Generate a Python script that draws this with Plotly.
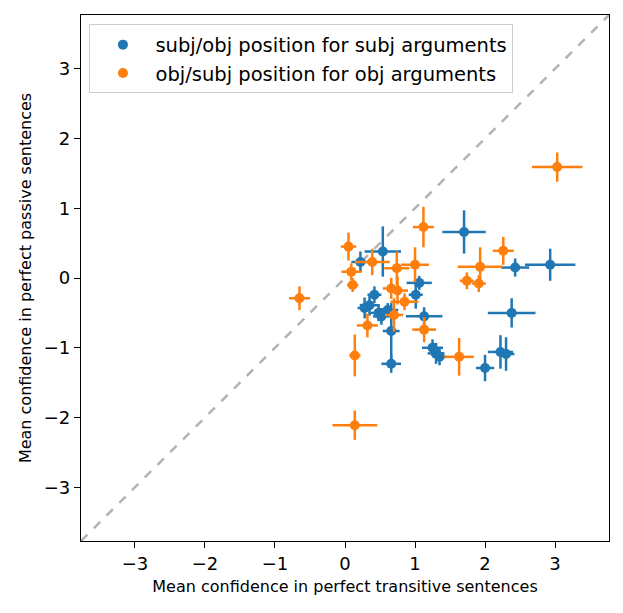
import plotly.graph_objects as go

# subj/obj position for subj arguments (blue)
blue_x = [1.70, 2.93, 2.43, 2.38, 2.00, 2.22, 2.30, 1.25, 1.30, 1.35, 0.54, 0.22,
          1.06, 1.01, 1.13, 0.66, 0.66, 0.42, 0.35, 0.61, 0.52, 0.48, 0.28]
blue_y = [0.66, 0.19, 0.15, -0.50, -1.29, -1.06, -1.09, -1.00, -1.08, -1.13, 0.38, 0.23,
          -0.07, -0.24, -0.55, -0.76, -1.23, -0.24, -0.39, -0.46, -0.55, -0.50, -0.43]
blue_xerr = [0.31, 0.36, 0.20, 0.34, 0.13, 0.18, 0.12, 0.15, 0.12, 0.10, 0.26, 0.13,
             0.18, 0.10, 0.26, 0.12, 0.14, 0.10, 0.14, 0.15, 0.12, 0.14, 0.10]
blue_yerr = [0.31, 0.23, 0.13, 0.21, 0.19, 0.24, 0.24, 0.12, 0.15, 0.12, 0.36, 0.15,
             0.10, 0.20, 0.13, 0.40, 0.13, 0.12, 0.15, 0.10, 0.12, 0.12, 0.15]

# obj/subj position for obj arguments (orange)
orange_x = [3.03, 1.12, 2.26, 1.93, 1.74, 1.91, 1.00, 0.05, 0.39, 0.74, 0.09, 0.11,
            -0.65, 0.32, 0.66, 0.85, 0.75, 0.70, 1.13, 1.63, 0.14, 0.14]
orange_y = [1.59, 0.73, 0.39, 0.16, -0.04, -0.08, 0.19, 0.45, 0.23, 0.14, 0.09, -0.10,
            -0.29, -0.68, -0.15, -0.34, -0.18, -0.53, -0.74, -1.13, -1.11, -2.11]
orange_xerr = [0.36, 0.15, 0.15, 0.32, 0.10, 0.10, 0.20, 0.11, 0.25, 0.18, 0.14, 0.08,
               0.15, 0.15, 0.12, 0.20, 0.15, 0.13, 0.17, 0.21, 0.08, 0.32]
orange_yerr = [0.21, 0.29, 0.20, 0.28, 0.12, 0.12, 0.25, 0.20, 0.19, 0.24, 0.12, 0.10,
               0.17, 0.17, 0.15, 0.12, 0.20, 0.24, 0.18, 0.27, 0.30, 0.21]

lim = [-3.77, 3.77]
ticks = [-3, -2, -1, 0, 1, 2, 3]

blue = '#1f77b4'
orange = '#ff7f0e'

fig = go.Figure()

fig.add_trace(go.Scatter(x=lim, y=lim, mode='lines', showlegend=False,
                         line=dict(color='#b3b3b3', width=2.5, dash='dash'),
                         hoverinfo='skip'))

def err_trace(x, y, xe, ye, color, name):
    return go.Scatter(
        x=x, y=y, mode='markers', name=name,
        marker=dict(color=color, size=10),
        error_x=dict(type='data', array=xe, color=color, thickness=2.5, width=0),
        error_y=dict(type='data', array=ye, color=color, thickness=2.5, width=0))

fig.add_trace(err_trace(blue_x, blue_y, blue_xerr, blue_yerr, blue,
                        'subj/obj position for subj arguments'))
fig.add_trace(err_trace(orange_x, orange_y, orange_xerr, orange_yerr, orange,
                        'obj/subj position for obj arguments'))

axis = dict(range=lim, tickvals=ticks, showgrid=False, zeroline=False,
            showline=True, mirror=True, linecolor='black', linewidth=1.3,
            ticks='outside', ticklen=6, tickcolor='black', tickwidth=1.3,
            tickfont=dict(size=18, color='black'), automargin=False)

fig.update_layout(
    width=623, height=613,
    margin=dict(l=73, r=22, t=7, b=80),
    plot_bgcolor='white', paper_bgcolor='white',
    font=dict(family='DejaVu Sans', color='black'),
    xaxis=dict(axis, title=dict(text='Mean confidence in perfect transitive sentences',
                                font=dict(size=16), standoff=8)),
    yaxis=dict(axis, title=dict(text='Mean confidence in perfect passive sentences',
                                font=dict(size=16), standoff=8)),
    legend=dict(x=0.016, y=0.982, xanchor='left', yanchor='top',
                bgcolor='rgba(255,255,255,0.8)', bordercolor='#cccccc', borderwidth=1,
                font=dict(size=19.5), itemwidth=55),
)

fig.write_html("out.html")
